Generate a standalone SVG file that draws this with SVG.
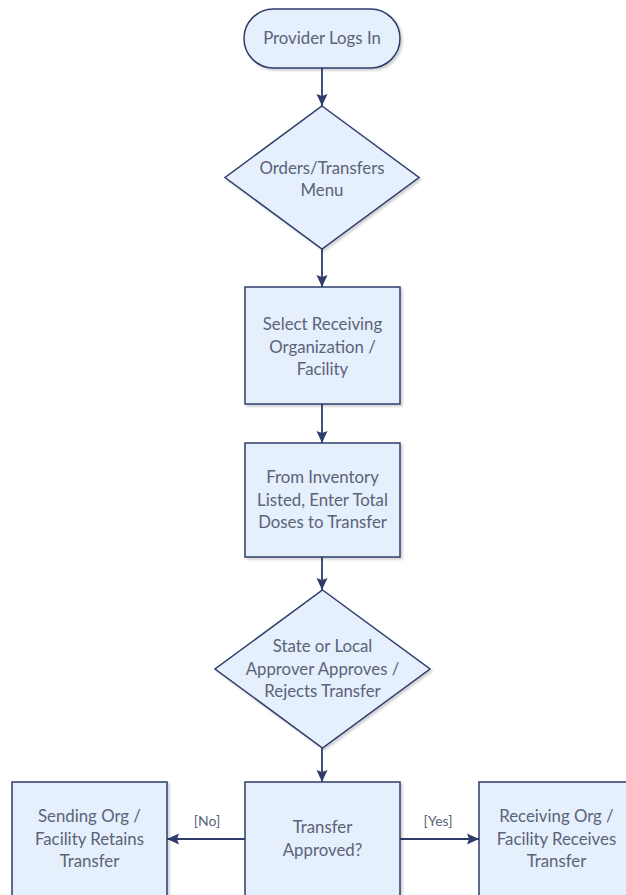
<svg xmlns="http://www.w3.org/2000/svg" width="626" height="895" viewBox="0 0 626 895">
<defs>
<style>
.shape{fill:#E6EFFC;stroke:#2E3D6B;stroke-width:1.5;filter:url(#sh)}
.t{font-family:Lato,"Open Sans","Liberation Sans",sans-serif;font-size:16.8px;fill:#5A6379;text-anchor:middle}
.lbl{font-family:Lato,"Open Sans","Liberation Sans",sans-serif;font-size:14px;fill:#5A6379;text-anchor:middle}
.c{stroke:#2E3D6B;stroke-width:1.8;fill:none;marker-end:url(#ah)}
</style>
<filter id="sh" x="-10%" y="-10%" width="130%" height="130%">
<feDropShadow dx="2" dy="2" stdDeviation="1" flood-color="#000" flood-opacity="0.18"/>
</filter>
<marker id="ah" viewBox="0 0 12 12" refX="12" refY="6" markerWidth="12" markerHeight="12" markerUnits="userSpaceOnUse" orient="auto">
<path d="M0,0.5 L12,6 L0,11.5 L2,6 Z" fill="#2E3D6B"/>
</marker>
</defs>
<rect width="626" height="895" fill="#FFFFFF"/>
<g id="connectors">
<line class="c" x1="322" y1="68" x2="322" y2="106"/>
<line class="c" x1="322" y1="249" x2="322" y2="287"/>
<line class="c" x1="322" y1="404" x2="322" y2="443"/>
<line class="c" x1="322" y1="557" x2="322" y2="590"/>
<line class="c" x1="322" y1="748" x2="322" y2="782"/>
<line class="c" x1="245" y1="839" x2="167" y2="839"/>
<line class="c" x1="400" y1="839" x2="479" y2="839"/>
<text class="lbl" x="207" y="826">[No]</text>
<text class="lbl" x="438" y="826">[Yes]</text>
</g>
<g id="start">
<rect class="shape" x="244" y="9" width="156" height="59" rx="29.5" ry="29.5"/>
<text class="t" x="322" y="44">Provider Logs In</text>
</g>
<g id="menu">
<polygon class="shape" points="322,106 419,177.5 322,249 225,177.5"/>
<text class="t" x="322" y="174">Orders/Transfers</text>
<text class="t" x="322" y="196">Menu</text>
</g>
<g id="select">
<rect class="shape" x="245" y="287" width="155" height="117"/>
<text class="t" x="322.5" y="330">Select Receiving</text>
<text class="t" x="322.5" y="352.5">Organization /</text>
<text class="t" x="322.5" y="375">Facility</text>
</g>
<g id="enter">
<rect class="shape" x="245" y="443" width="155" height="114"/>
<text class="t" x="322.5" y="483">From Inventory</text>
<text class="t" x="322.5" y="505.5">Listed, Enter Total</text>
<text class="t" x="322.5" y="528">Doses to Transfer</text>
</g>
<g id="approver">
<polygon class="shape" points="322.5,590 430,669 322.5,748 215,669"/>
<text class="t" x="322.5" y="652">State or Local</text>
<text class="t" x="322.5" y="674.5">Approver Approves /</text>
<text class="t" x="322.5" y="697">Rejects Transfer</text>
</g>
<g id="approved">
<rect class="shape" x="245" y="782" width="155" height="117"/>
<text class="t" x="322.5" y="833">Transfer</text>
<text class="t" x="322.5" y="856">Approved?</text>
</g>
<g id="retains">
<rect class="shape" x="12" y="782" width="155" height="117"/>
<text class="t" x="89.5" y="822">Sending Org /</text>
<text class="t" x="89.5" y="844.5">Facility Retains</text>
<text class="t" x="89.5" y="867">Transfer</text>
</g>
<g id="receives">
<rect class="shape" x="479" y="782" width="155" height="117"/>
<text class="t" x="556.5" y="822">Receiving Org /</text>
<text class="t" x="556.5" y="844.5">Facility Receives</text>
<text class="t" x="556.5" y="867">Transfer</text>
</g>
</svg>
